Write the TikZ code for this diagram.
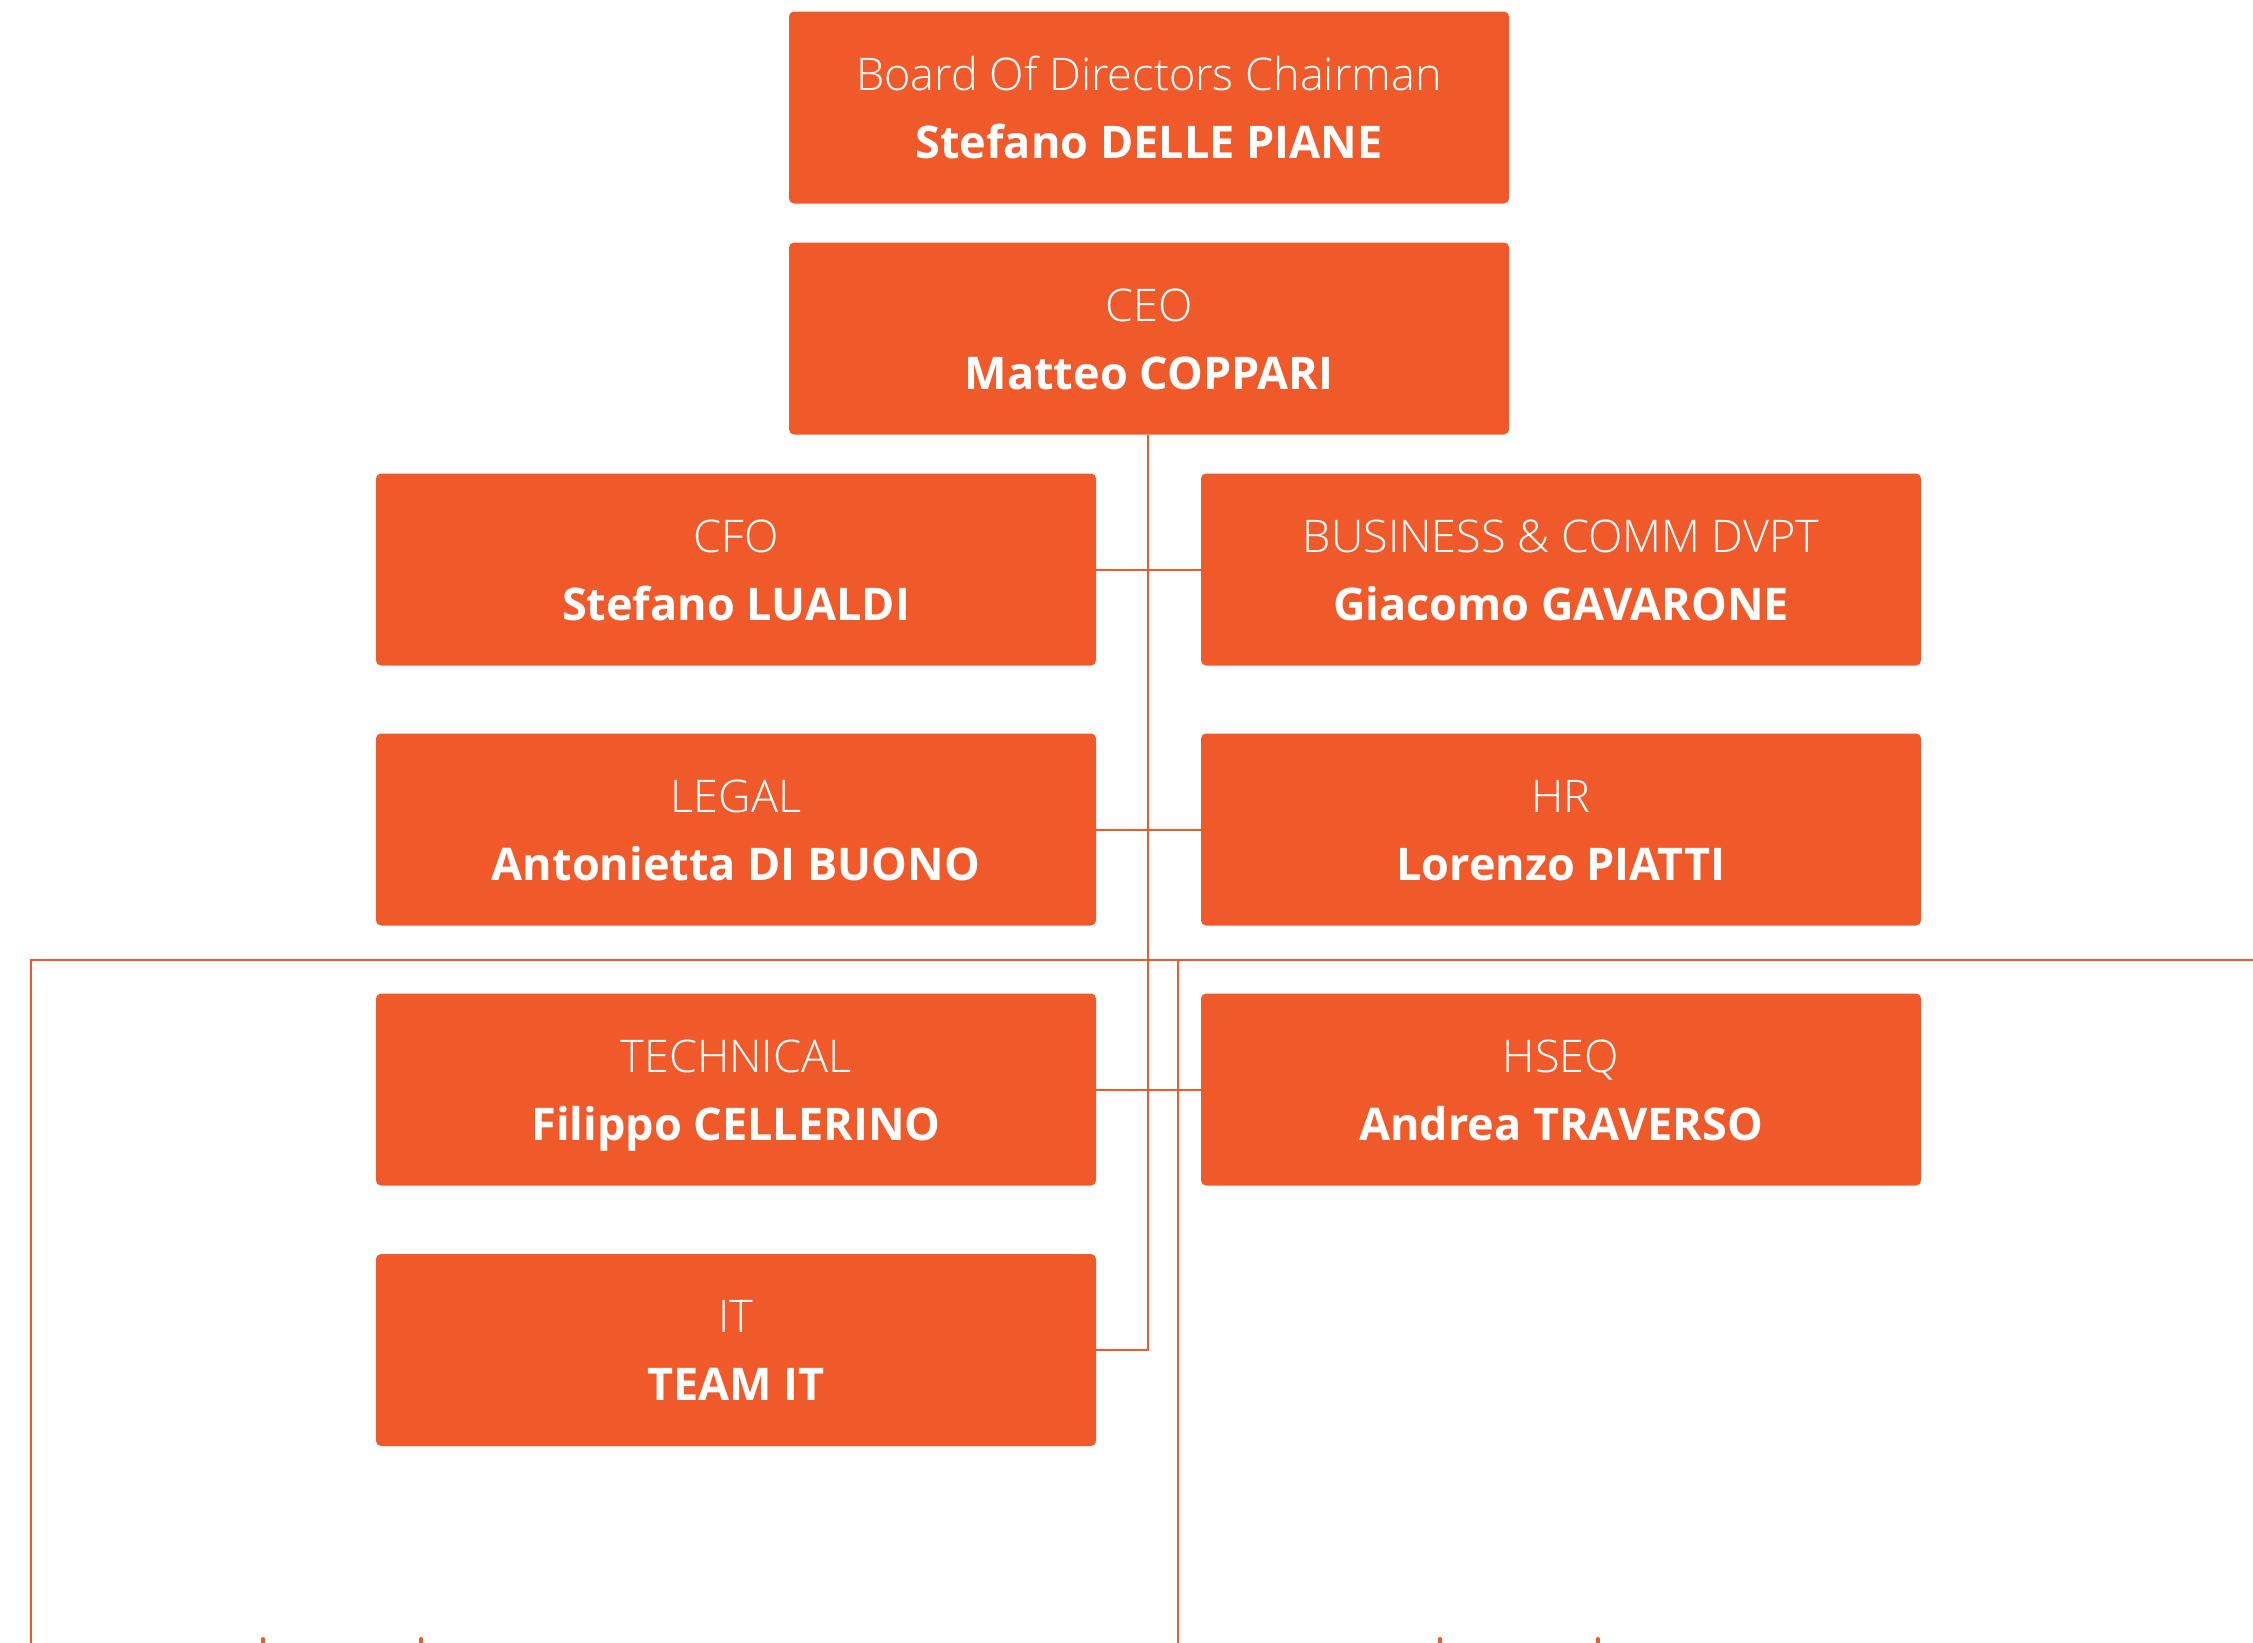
\documentclass[tikz,border=0pt]{standalone}
\usepackage{fontspec}
\setmainfont{Open Sans}
\newfontfamily\lightfont{Open Sans Light}
\usetikzlibrary{calc}
\definecolor{orgc}{HTML}{F05A2B}
\tikzset{
  box/.style={fill=orgc, draw=none, rounded corners=5pt, minimum width=720pt, minimum height=192pt, inner sep=0pt},
  roletext/.style={anchor=base, text=white, inner sep=0pt, font=\lightfont\fontsize{45}{54}\selectfont},
  nametext/.style={anchor=base, text=white, inner sep=0pt, font=\bfseries\fontsize{45}{54}\selectfont},
  conn/.style={draw=orgc, line width=2pt},
  stub/.style={draw=orgc, line width=4pt, line cap=round}
}
\begin{document}
\begin{tikzpicture}[x=1pt,y=-1pt]
\useasboundingbox (0,0) rectangle (2253,1642);
\fill[white] (0,0) rectangle (2253,1642);

% boxes
\node[box] (board) at (1149,107.5) {};
\node[box] (ceo)   at (1149,338.5) {};
\node[box] (cfo)   at (736,569.5) {};
\node[box] (bus)   at (1561,569.5) {};
\node[box] (legal) at (736,829.5) {};
\node[box] (hr)    at (1561,829.5) {};
\node[box] (tech)  at (736,1089.5) {};
\node[box] (hseq)  at (1561,1089.5) {};
\node[box] (it)    at (736,1350) {};

% texts
\foreach \n/\r/\p in {board/Board Of Directors Chairman/Stefano DELLE PIANE,
                      ceo/CEO/Matteo COPPARI,
                      cfo/CFO/Stefano LUALDI,
                      bus/BUSINESS \& COMM DVPT/Giacomo GAVARONE,
                      legal/LEGAL/Antonietta DI BUONO,
                      hr/HR/Lorenzo PIATTI,
                      tech/TECHNICAL/Filippo CELLERINO,
                      hseq/HSEQ/Andrea TRAVERSO,
                      it/IT/TEAM IT}{
  \node[roletext] (\n-role) at ($(\n.north)+(0,79)$) {\r};
  \node[nametext] (\n-name) at ($(\n.north)+(0,147)$) {\p};
}

% coordinates
\coordinate (trunkend) at (1148,1350);
\coordinate (hl) at (31,960);
\coordinate (hr2) at (2260,960);
\coordinate (lv) at (31,1650);
\coordinate (rvtop) at (1178,960);
\coordinate (rv) at (1178,1650);

% connectors
\draw[conn] (ceo.south -| trunkend) -- (trunkend) -- (it.east |- trunkend);
\draw[conn] (cfo.east) -- (bus.west);
\draw[conn] (legal.east) -- (hr.west);
\draw[conn] (tech.east) -- (hseq.west);
\draw[conn] (hr2) -- (hl) -- (lv);
\draw[conn] (rvtop) -- (rv);

% stubs at bottom edge
\foreach \x in {263,421,1440,1598}{
  \draw[stub] (\x,1639) -- (\x,1660);
}
\end{tikzpicture}
\end{document}
